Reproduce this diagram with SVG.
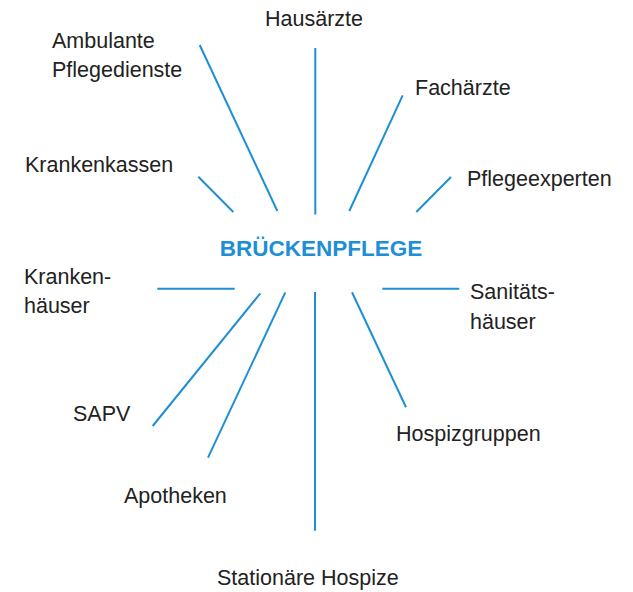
<svg xmlns="http://www.w3.org/2000/svg" width="633" height="592" viewBox="0 0 633 592">
<style>
.lbl{font-family:"Liberation Sans",Arial,sans-serif;font-size:21.5px;fill:#222;}
.title{font-family:"Liberation Sans",Arial,sans-serif;font-size:22.5px;font-weight:bold;fill:#1e8fd5;}
.c line{stroke:#1e8fd5;stroke-width:2;stroke-linecap:butt;}
</style>
<rect width="633" height="592" fill="#fff"/>
<g id="connectors" class="c">
<line x1="315.3" y1="48" x2="315.3" y2="214.5"/>
<line x1="199.7" y1="45" x2="277.3" y2="211"/>
<line x1="402.7" y1="95.3" x2="349.3" y2="211"/>
<line x1="198.3" y1="176.7" x2="233.3" y2="212"/>
<line x1="451" y1="177" x2="416.3" y2="212"/>
<line x1="157.3" y1="288.7" x2="234.7" y2="288.7"/>
<line x1="382.3" y1="288.7" x2="459.3" y2="288.7"/>
<line x1="260.3" y1="293.3" x2="152.7" y2="426"/>
<line x1="285.3" y1="292.3" x2="208" y2="457.7"/>
<line x1="315" y1="292" x2="315" y2="530.7"/>
<line x1="352" y1="292.3" x2="406" y2="407.3"/>
</g>
<g id="center"><text class="title" x="321" y="256" text-anchor="middle">BRÜCKENPFLEGE</text></g>
<g id="hausaerzte"><text class="lbl" x="265" y="26">Hausärzte</text></g>
<g id="ambulante"><text class="lbl" x="52" y="48">Ambulante</text><text class="lbl" x="52" y="77">Pflegedienste</text></g>
<g id="fachaerzte"><text class="lbl" x="415" y="95">Fachärzte</text></g>
<g id="krankenkassen"><text class="lbl" x="25" y="172">Krankenkassen</text></g>
<g id="pflegeexperten"><text class="lbl" x="467" y="186">Pflegeexperten</text></g>
<g id="krankenhaeuser"><text class="lbl" x="24" y="284">Kranken-</text><text class="lbl" x="24" y="313">häuser</text></g>
<g id="sanitaetshaeuser"><text class="lbl" x="470" y="299">Sanitäts-</text><text class="lbl" x="470" y="329">häuser</text></g>
<g id="sapv"><text class="lbl" x="73" y="421">SAPV</text></g>
<g id="hospizgruppen"><text class="lbl" x="396" y="441">Hospizgruppen</text></g>
<g id="apotheken"><text class="lbl" x="124" y="503">Apotheken</text></g>
<g id="stationaere"><text class="lbl" x="217" y="585">Stationäre Hospize</text></g>
</svg>
